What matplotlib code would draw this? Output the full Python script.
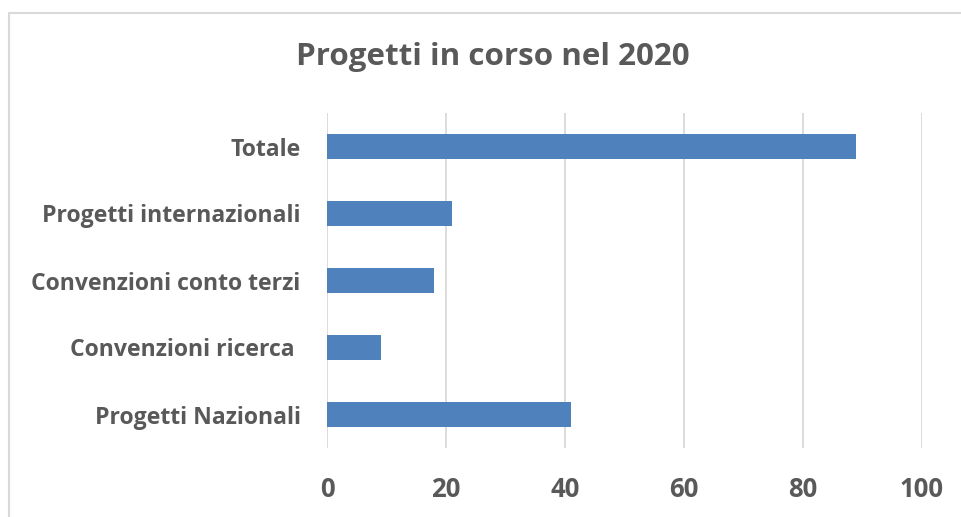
import matplotlib.pyplot as plt
from matplotlib.patches import Rectangle

# chart data
categories = ['Progetti Nazionali', 'Convenzioni ricerca ', 'Convenzioni conto terzi',
              'Progetti internazionali', 'Totale']
values = [41, 9, 18, 21, 89]
x_ticks = [0, 20, 40, 60, 80, 100]

bar_color = '#4F81BD'
text_color = '#595959'
grid_color = '#D9D9D9'

plt.rcParams['font.family'] = ['Open Sans', 'DejaVu Sans']

fig = plt.figure(figsize=(9.62, 5.17), dpi=100)
W, H = 962, 517
ax = fig.add_axes([327 / W, 1 - 448 / H, (921.5 - 327) / W, (448 - 113) / H])

ypos = list(range(len(categories)))
ax.barh(ypos, values, height=0.36, color=bar_color, zorder=3)

ax.set_xlim(0, 100)
ax.set_ylim(-0.5, len(categories) - 0.5)
ax.set_xticks(x_ticks)
ax.set_xticklabels([str(t) for t in x_ticks])
ax.set_yticks(ypos)
ax.set_yticklabels(categories)

ax.grid(axis='x', color=grid_color, linewidth=1.3, zorder=0)
for s in ax.spines.values():
    s.set_visible(False)

ax.tick_params(axis='y', length=0, pad=19, labelsize=16.6, labelcolor=text_color)
ax.tick_params(axis='x', length=0, pad=20, labelsize=18.5, labelcolor=text_color)
for lbl in ax.get_yticklabels() + ax.get_xticklabels():
    lbl.set_fontweight('bold')

fig.text(493 / W, 1 - 57 / H, 'Progetti in corso nel 2020', ha='center', va='center',
         fontsize=22.6, fontweight='bold', color=text_color)

# outer chart border (runs off the right and bottom edges)
fig.patches.append(Rectangle((9 / W, -0.1), 1.2, 1.1 - 13 / H, transform=fig.transFigure,
                             fill=False, edgecolor=grid_color, linewidth=1.5))

fig.savefig('out.png', dpi=100)
